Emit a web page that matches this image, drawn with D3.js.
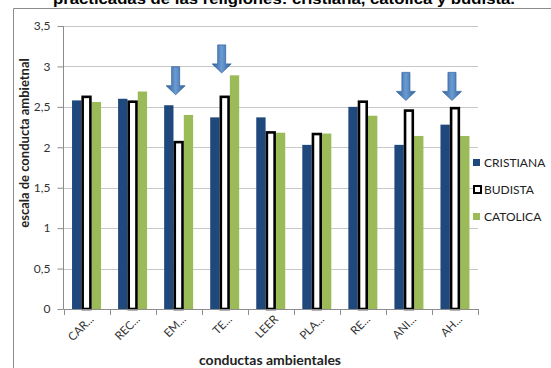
<!DOCTYPE html>
<html><head><meta charset="utf-8">
<script src="https://cdn.jsdelivr.net/npm/d3@7"></script>
<style>body{margin:0;background:#fff}svg{display:block}</style>
</head><body>
<svg id="c" width="551" height="368"></svg>
<script>
const categories = ["CAR...","REC...","EM...","TE...","LEER","PLA...","RE...","ANI...","AH..."];
const seriesNames = ["CRISTIANA","BUDISTA","CATOLICA"];
const cristiana = [2.58,2.60,2.52,2.37,2.37,2.03,2.50,2.03,2.28];
const budista   = [2.64,2.58,2.08,2.64,2.20,2.18,2.58,2.47,2.50];
const catolica  = [2.56,2.69,2.40,2.89,2.18,2.17,2.39,2.14,2.14];
const yTicks = [0,0.5,1,1.5,2,2.5,3,3.5];
const arrowCats = ["EM...","TE...","ANI...","AH..."];
const arrowTips = [2.65,2.92,2.58,2.58];
const title = "practicadas de las religiones: cristiana, catolica y budista.";

const svg = d3.select("#c");
const W=551,H=368;
const colors = ["#1F497D","#ffffff","#9BBB59"];
const values = [cristiana,budista,catolica];

// outer chart border
svg.append("path").attr("d","M13.5,368 V8.5 H551").attr("fill","none").attr("stroke","#8c8c8c").attr("stroke-width",1);

// title (cut off at top)
svg.append("text").attr("x",284).attr("y",4).attr("text-anchor","middle")
  .attr("font-family","Liberation Sans, Arial, sans-serif").attr("font-weight","bold").attr("font-size",15)
  .attr("textLength",462).attr("lengthAdjust","spacingAndGlyphs").attr("fill","#000").text(title);

const x = d3.scaleBand().domain(categories).range([63.5,478]);
const y = d3.scaleLinear().domain([0,3.5]).range([309,26]);

// gridlines
svg.append("g").selectAll("line").data(yTicks.filter(d=>d>0)).join("line")
  .attr("x1",63.5).attr("x2",478).attr("y1",d=>Math.round(y(d))+0.5).attr("y2",d=>Math.round(y(d))+0.5)
  .attr("stroke","#c8c8c8");

// y axis
const ya = svg.append("g").attr("transform","translate(63.5,0)")
  .call(d3.axisLeft(y).tickValues(yTicks).tickSize(6).tickPadding(7).tickFormat(d=>String(d).replace(".",",")));
ya.selectAll("path,line").attr("stroke","#8c8c8c");
ya.selectAll("text").attr("font-family","Lato, sans-serif").attr("font-size",12).attr("fill","#333");
ya.select(".domain").attr("d","M0,"+y(3.5)+"V"+y(0));

// bars
const inner = d3.scaleBand().domain([0,1,2]).range([0,29]).paddingInner(0.05);
const groups = svg.append("g").selectAll("g").data(categories).join("g")
  .attr("transform",d=>`translate(${x(d)+ (x.bandwidth()-29)/2},0)`);
groups.each(function(cat,i){
  const g=d3.select(this);
  [0,2,1].forEach(s=>{
    const v=values[s][i];
    const r=g.append("rect").attr("x",inner(s)).attr("width",inner.bandwidth())
      .attr("y",y(v)).attr("height",y(0)-y(v)).attr("fill",colors[s]);
    if(s===1){ r.attr("stroke","#000").attr("stroke-width",2.6).attr("x",inner(s)+0.8).attr("width",inner.bandwidth()-1.6)
      .attr("y",y(v)+1.3).attr("height",y(0)-y(v)-1.3); }
  });
});

// x axis
const xa = svg.append("g").attr("transform","translate(0,309.5)")
  .call(d3.axisBottom(x).tickSize(0).tickFormat(""));
xa.select(".domain").attr("stroke","#8c8c8c").attr("d","M63.5,0H478");
svg.append("g").selectAll("line").data(categories.concat(["_end"])).join("line")
  .attr("x1",(d,i)=>Math.round(i<categories.length?x(d):478)+0.5)
  .attr("x2",(d,i)=>Math.round(i<categories.length?x(d):478)+0.5)
  .attr("y1",309).attr("y2",315).attr("stroke","#8c8c8c");
svg.append("g").selectAll("text").data(categories).join("text")
  .attr("transform",d=>`translate(${x(d)+x.bandwidth()/2+8},${320}) rotate(-45)`)
  .attr("text-anchor","end").attr("font-family","Lato, sans-serif").attr("font-size",11.5).attr("fill","#333")
  .text(d=>d);

// arrows
const arrowG = svg.append("g");
const defs = svg.append("defs");
const lg = defs.append("linearGradient").attr("id","ag").attr("x1",0).attr("x2",1).attr("y1",0).attr("y2",0);
lg.append("stop").attr("offset","0").attr("stop-color","#2f5f98");
lg.append("stop").attr("offset","0.5").attr("stop-color","#6a9bd2");
lg.append("stop").attr("offset","1").attr("stop-color","#2f5f98");
arrowCats.forEach((c,i)=>{
  const cx = x(c)+x.bandwidth()/2-3, ty=y(arrowTips[i]);
  const p = `M${cx-4},${ty-28} H${cx+4} V${ty-9} H${cx+9.5} L${cx},${ty} L${cx-9.5},${ty-9} H${cx-4} Z`;
  arrowG.append("path").attr("d",p).attr("fill","url(#ag)").attr("stroke","#3b6aa3").attr("stroke-width",0.8);
});

// axis titles
svg.append("text").attr("transform","translate(29,143) rotate(-90)").attr("text-anchor","middle")
  .attr("font-family","Lato, sans-serif").attr("font-weight","bold").attr("font-size",13).attr("fill","#222")
  .text("escala de conducta ambietnal");
svg.append("text").attr("x",270).attr("y",365).attr("text-anchor","middle")
  .attr("font-family","Lato, sans-serif").attr("font-weight","bold").attr("font-size",14).attr("fill","#222")
  .text("conductas ambientales");

// legend
const leg = svg.append("g");
seriesNames.forEach((n,i)=>{
  const cy = 163 + i*27;
  if(i===1){
    leg.append("rect").attr("x",474).attr("y",cy-4).attr("width",7).attr("height",7).attr("fill","#fff").attr("stroke","#000").attr("stroke-width",2);
  } else {
    leg.append("rect").attr("x",473).attr("y",cy-4).attr("width",7).attr("height",7).attr("fill",colors[i]);
  }
  leg.append("text").attr("x",484).attr("y",cy+4).attr("font-family","Lato, sans-serif").attr("font-size",12).attr("fill","#222").text(n);
});
</script>
</body></html>
